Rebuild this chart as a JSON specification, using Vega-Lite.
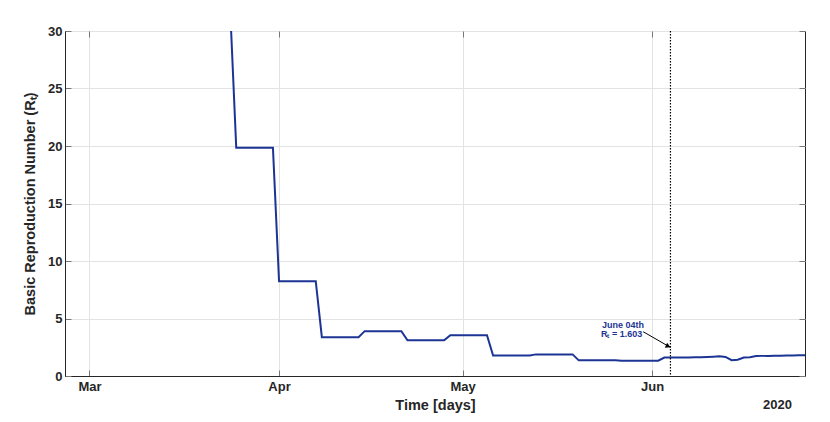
{
  "$schema": "https://vega.github.io/schema/vega-lite/v6.json",
  "width": 740,
  "height": 345,
  "autosize": "none",
  "padding": {"left": 65, "top": 31, "right": 25, "bottom": 46},
  "background": "white",
  "config": {
    "font": "Liberation Sans",
    "view": {"stroke": "#262626", "strokeWidth": 1},
    "axis": {
      "labelFont": "Liberation Sans", "labelFontWeight": "bold", "labelFontSize": 13, "labelColor": "#262626",
      "titleFont": "Liberation Sans", "titleFontWeight": "bold", "titleFontSize": 14.5, "titleColor": "#262626",
      "domainColor": "#262626", "tickColor": "#777777", "gridColor": "#e3e3e3", "gridWidth": 1
    }
  },
  "datasets": {
    "rt": [
      {"date": "2020-03-24", "rt": 32},
      {"date": "2020-03-25", "rt": 19.85},
      {"date": "2020-03-31", "rt": 19.85},
      {"date": "2020-04-01", "rt": 8.25},
      {"date": "2020-04-07", "rt": 8.25},
      {"date": "2020-04-08", "rt": 3.38},
      {"date": "2020-04-14", "rt": 3.38},
      {"date": "2020-04-15", "rt": 3.9},
      {"date": "2020-04-21", "rt": 3.9},
      {"date": "2020-04-22", "rt": 3.1},
      {"date": "2020-04-28", "rt": 3.1},
      {"date": "2020-04-29", "rt": 3.55},
      {"date": "2020-05-05", "rt": 3.55},
      {"date": "2020-05-06", "rt": 1.78},
      {"date": "2020-05-12", "rt": 1.78},
      {"date": "2020-05-13", "rt": 1.88},
      {"date": "2020-05-19", "rt": 1.88},
      {"date": "2020-05-20", "rt": 1.36},
      {"date": "2020-05-26", "rt": 1.36},
      {"date": "2020-05-27", "rt": 1.33},
      {"date": "2020-06-02", "rt": 1.33},
      {"date": "2020-06-03", "rt": 1.6},
      {"date": "2020-06-04", "rt": 1.603},
      {"date": "2020-06-05", "rt": 1.6},
      {"date": "2020-06-06", "rt": 1.6},
      {"date": "2020-06-07", "rt": 1.61},
      {"date": "2020-06-08", "rt": 1.62},
      {"date": "2020-06-09", "rt": 1.62},
      {"date": "2020-06-10", "rt": 1.65},
      {"date": "2020-06-11", "rt": 1.68},
      {"date": "2020-06-12", "rt": 1.72},
      {"date": "2020-06-13", "rt": 1.66},
      {"date": "2020-06-14", "rt": 1.38},
      {"date": "2020-06-15", "rt": 1.42},
      {"date": "2020-06-16", "rt": 1.6},
      {"date": "2020-06-17", "rt": 1.64},
      {"date": "2020-06-18", "rt": 1.74},
      {"date": "2020-06-19", "rt": 1.75},
      {"date": "2020-06-20", "rt": 1.75},
      {"date": "2020-06-21", "rt": 1.76},
      {"date": "2020-06-22", "rt": 1.77},
      {"date": "2020-06-23", "rt": 1.78},
      {"date": "2020-06-24", "rt": 1.79},
      {"date": "2020-06-25", "rt": 1.8},
      {"date": "2020-06-26", "rt": 1.8}
    ],
    "marker": [{"date": "2020-06-04"}],
    "arrow": [
      {"date": "2020-05-30T13:00:00Z", "rt": 3.85},
      {"date": "2020-06-04T00:30:00Z", "rt": 2.48}
    ],
    "head": [{"date": "2020-06-03T15:00:00Z", "rt": 2.58}],
    "notes": [
      {"date": "2020-05-27T06:00:00Z", "rt": 4.43, "label": "June 04th"},
      {"date": "2020-05-27T00:00:00Z", "rt": 3.62, "label": "Rₜ = 1.603"}
    ],
    "year": [{"date": "2020-06-21T12:00:00Z", "rt": -2.55, "label": "2020"}]
  },
  "resolve": {"axis": {"x": "independent", "y": "independent"}},
  "layer": [
    {
      "data": {"name": "rt"},
      "mark": {"type": "line", "color": "#1c3494", "strokeWidth": 2, "clip": true},
      "encoding": {
        "x": {
          "field": "date", "type": "temporal",
          "scale": {"type": "utc", "domain": [{"year": 2020, "month": 2, "date": 26, "utc": true}, {"year": 2020, "month": 6, "date": 26, "utc": true}]},
          "axis": {
            "orient": "bottom", "title": "Time [days]", "titlePadding": 5,
            "values": [{"year": 2020, "month": 3, "date": 1, "utc": true}, {"year": 2020, "month": 4, "date": 1, "utc": true}, {"year": 2020, "month": 5, "date": 1, "utc": true}, {"year": 2020, "month": 6, "date": 1, "utc": true}],
            "labelExpr": "utcFormat(datum.value, '%b')", "tickSize": -6, "labelPadding": 10, "labelFlush": false, "labelOverlap": false
          }
        },
        "y": {
          "field": "rt", "type": "quantitative",
          "scale": {"domain": [0, 30], "nice": false, "zero": true},
          "axis": {
            "orient": "left", "title": "Basic Reproduction Number (Rₜ)", "values": [0, 5, 10, 15, 20, 25, 30],
            "tickSize": -6, "labelPadding": 9, "titlePadding": 10, "labelFlush": false
          }
        }
      }
    },
    {
      "data": {"name": "marker"},
      "mark": {"type": "rule", "color": "black", "strokeWidth": 1.2, "strokeDash": [1.5, 1.5]},
      "encoding": {
        "x": {
          "field": "date", "type": "temporal",
          "axis": {
            "orient": "top", "title": null, "labels": false, "grid": false, "domain": false,
            "values": [{"year": 2020, "month": 3, "date": 1, "utc": true}, {"year": 2020, "month": 4, "date": 1, "utc": true}, {"year": 2020, "month": 5, "date": 1, "utc": true}, {"year": 2020, "month": 6, "date": 1, "utc": true}],
            "tickSize": -6
          }
        }
      }
    },
    {
      "data": {"name": "arrow"},
      "mark": {"type": "line", "color": "black", "strokeWidth": 1},
      "encoding": {
        "x": {"field": "date", "type": "temporal", "axis": null},
        "y": {
          "field": "rt", "type": "quantitative",
          "axis": {"orient": "right", "title": null, "labels": false, "grid": false, "domain": false, "values": [0, 5, 10, 15, 20, 25, 30], "tickSize": -6}
        }
      }
    },
    {
      "data": {"name": "head"},
      "mark": {"type": "point", "shape": "triangle-right", "filled": true, "color": "black", "size": 30, "angle": 25, "opacity": 1},
      "encoding": {
        "x": {"field": "date", "type": "temporal", "axis": null},
        "y": {"field": "rt", "type": "quantitative", "axis": null}
      }
    },
    {
      "data": {"name": "notes"},
      "mark": {"type": "text", "font": "Liberation Sans", "fontWeight": "bold", "fontSize": 9, "color": "#1c3494", "align": "center", "baseline": "middle"},
      "encoding": {
        "x": {"field": "date", "type": "temporal", "axis": null},
        "y": {"field": "rt", "type": "quantitative", "axis": null},
        "text": {"field": "label"}
      }
    },
    {
      "data": {"name": "year"},
      "mark": {"type": "text", "font": "Liberation Sans", "fontWeight": "bold", "fontSize": 13, "color": "#262626", "align": "center", "baseline": "middle"},
      "encoding": {
        "x": {"field": "date", "type": "temporal", "axis": null},
        "y": {"field": "rt", "type": "quantitative", "axis": null},
        "text": {"field": "label"}
      }
    }
  ]
}
